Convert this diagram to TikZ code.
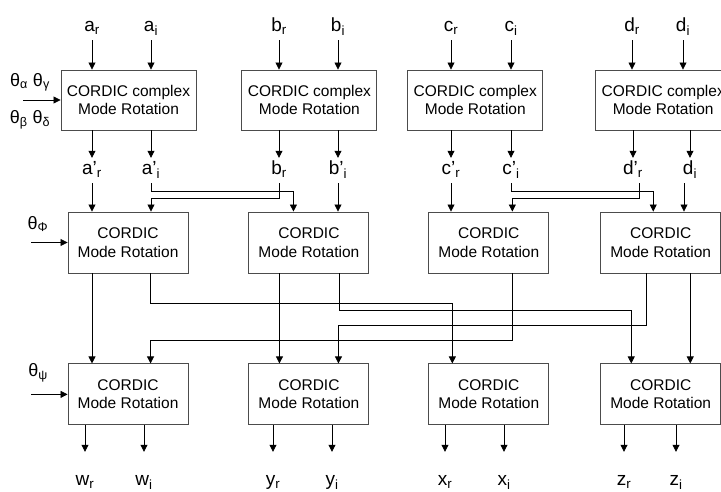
\documentclass[tikz,border=0pt]{standalone}
\usepackage{fontspec}
\setmainfont{Liberation Sans}
\usetikzlibrary{arrows.meta,positioning}

\begin{document}
\begin{tikzpicture}[
  x=1pt,y=-1pt,
  node distance=82pt and 45pt,
  cbox/.style={draw=black!70,line width=0.9pt,inner sep=0pt,align=center,
               font=\fontsize{15.5}{18.5}\selectfont},
  wide/.style={cbox,minimum width=135pt,minimum height=60pt},
  narrow/.style={cbox,minimum width=120pt,minimum height=61pt},
  sig/.style={inner sep=0pt,minimum height=25pt,font=\fontsize{19}{22}\selectfont\strut},
  outsig/.style={sig,minimum height=59pt},
  ang/.style={inner sep=0pt,align=center,font=\fontsize{18}{37}\selectfont},
  arr/.style={-{Triangle[length=7pt,width=7pt]},line width=0.8pt}
]
  \useasboundingbox (0,0) rectangle (721,492);
  \clip (0,0) rectangle (721,492);

  % first stage: complex rotations
  \node[wide] (A1) at (128.5,100) {CORDIC complex\\Mode Rotation};
  \node[wide,right=45pt of A1] (B1) {CORDIC complex\\Mode Rotation};
  \node[wide,right=30pt of B1] (C1) {CORDIC complex\\Mode Rotation};
  \node[wide,right=52pt of C1] (D1) {CORDIC complex\\Mode Rotation};

  % second and third stage
  \node[narrow] (A2) at (128,242.5) {CORDIC\\Mode Rotation};
  \node[narrow,right=60pt of A2] (B2) {CORDIC\\Mode Rotation};
  \node[narrow,right=59pt of B2] (C2) {CORDIC\\Mode Rotation};
  \node[narrow,right=51pt of C2] (D2) {CORDIC\\Mode Rotation};

  \node[narrow,below=90pt of A2] (A3) {CORDIC\\Mode Rotation};
  \node[narrow,below=90pt of B2] (B3) {CORDIC\\Mode Rotation};
  \node[narrow,below=90pt of C2] (C3) {CORDIC\\Mode Rotation};
  \node[narrow,below=90pt of D2] (D3) {CORDIC\\Mode Rotation};

  % inputs
  \node[sig] (ar) at (92,27.5)  {a\textsubscript{r}};
  \node[sig] (ai) at (151,27.5) {a\textsubscript{i}};
  \node[sig] (br) at (279,27.5) {b\textsubscript{r}};
  \node[sig] (bi) at (338,27.5) {b\textsubscript{i}};
  \node[sig] (cr) at (451,27.5) {c\textsubscript{r}};
  \node[sig] (ci) at (511,27.5) {c\textsubscript{i}};
  \node[sig] (dr) at (632,27.5) {d\textsubscript{r}};
  \node[sig] (di) at (683,27.5) {d\textsubscript{i}};

  \foreach \s/\b in {ar/A1,ai/A1,br/B1,bi/B1,cr/C1,ci/C1,dr/D1,di/D1}
    \draw[arr] (\s.south) -- (\s.south |- \b.north);

  % intermediate signals
  \node[sig] (arp) at (92,170.5)  {a’\textsubscript{r}};
  \node[sig] (aip) at (151,170.5) {a’\textsubscript{i}};
  \node[sig] (brp) at (279,170.5) {b\textsubscript{r}};
  \node[sig] (bip) at (338,170.5) {b’\textsubscript{i}};
  \node[sig] (crp) at (451,170.5) {c’\textsubscript{r}};
  \node[sig] (cip) at (511,170.5) {c’\textsubscript{i}};
  \node[sig] (drp) at (633,170.5) {d’\textsubscript{r}};
  \node[sig] (dip) at (690,170.5) {d\textsubscript{i}};

  \foreach \s/\b in {arp/A1,aip/A1,brp/B1,bip/B1,crp/C1,cip/C1,drp/D1,dip/D1}
    \draw[arr] (\b.south -| \s) -- (\s.north);

  \draw[arr] (arp.south) -- (arp.south |- A2.north);
  \draw[arr] (aip.south) -- ++(0,8) -| ([xshift=45pt]B2.north west);
  \draw[arr] (brp.south) -- ++(0,15) -| (aip.south |- A2.north);
  \draw[arr] (bip.south) -- (bip.south |- B2.north);
  \draw[arr] (crp.south) -- (crp.south |- C2.north);
  \draw[arr] (cip.south) -- ++(0,8) -| ([xshift=53pt]D2.north west);
  \draw[arr] ([xshift=6pt]drp.south) -- ++(0,15) -| ([xshift=84pt]C2.north west);
  \draw[arr] ([xshift=-6pt]dip.south) -- ([xshift=-6pt]dip.south |- D2.north);

  % crossings between stage two and three
  \draw[arr] (A2.south -| arp) -- (A3.north -| arp);
  \draw[arr] ([xshift=83pt]A2.south west) -- ++(0,30) -| ([xshift=24pt]C3.north west);
  \draw[arr] ([xshift=31pt]B2.south west) -- ([xshift=31pt]B3.north west);
  \draw[arr] ([xshift=91pt]B2.south west) -- ++(0,37) -| ([xshift=31pt]D3.north west);
  \draw[arr] ([xshift=84pt]C2.south west) -- ++(0,67) -| ([xshift=83pt]A3.north west);
  \draw[arr] ([xshift=46pt]D2.south west) -- ++(0,52) -| ([xshift=90pt]B3.north west);
  \draw[arr] ([xshift=90pt]D2.south west) -- ([xshift=90pt]D3.north west);

  % angles
  \coordinate (tA) at (23,100);
  \coordinate (tP) at (31,242.5);
  \coordinate (tS) at (31,393);
  \node[ang] (thA) at (30,101) {θ\textsubscript{α} θ\textsubscript{γ}\\θ\textsubscript{β} θ\textsubscript{δ}};
  \node[ang] (thP) at (38,224) {θ\textsubscript{Φ}};
  \node[ang] (thS) at (38,373) {θ\textsubscript{ψ}};
  \draw[arr] (tA |- A1.west) -- (A1.west);
  \draw[arr] (tP |- A2.west) -- (A2.west);
  \draw[arr] (tS |- A3.west) -- (A3.west);

  % outputs
  \node[outsig] (wr) at (85,481.5)  {w\textsubscript{r}};
  \node[outsig] (wi) at (144,481.5) {w\textsubscript{i}};
  \node[outsig] (yr) at (273,481.5) {y\textsubscript{r}};
  \node[outsig] (yi) at (332,481.5) {y\textsubscript{i}};
  \node[outsig] (xr) at (445,481.5) {x\textsubscript{r}};
  \node[outsig] (xi) at (504,481.5) {x\textsubscript{i}};
  \node[outsig] (zr) at (624,481.5) {z\textsubscript{r}};
  \node[outsig] (zi) at (676,481.5) {z\textsubscript{i}};

  \foreach \s/\b in {wr/A3,wi/A3,yr/B3,yi/B3,xr/C3,xi/C3,zr/D3,zi/D3}
    \draw[arr] (\b.south -| \s) -- (\s.north);
\end{tikzpicture}
\end{document}
